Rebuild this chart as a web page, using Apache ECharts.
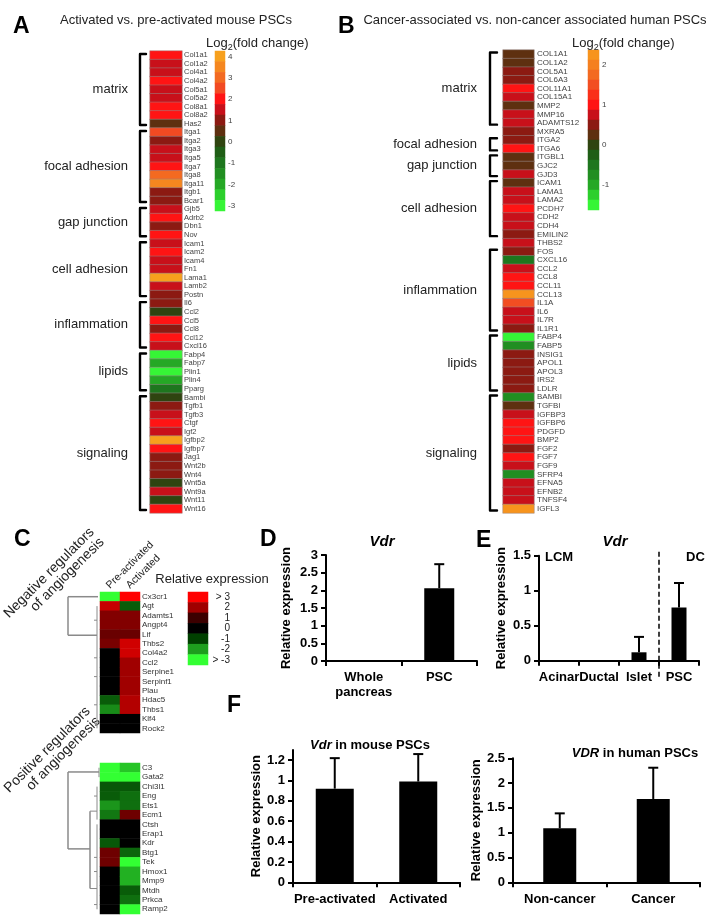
<!DOCTYPE html>
<html><head><meta charset="utf-8">
<script src="https://cdn.jsdelivr.net/npm/echarts@6/dist/echarts.min.js"></script>
<style>html,body{margin:0;padding:0;background:#fff}#c{width:721px;height:920px}</style>
</head><body><div id="c"></div>
<script>
const FONT = 'Liberation Sans, Arial, Helvetica, sans-serif';

// ---------- Panel A data ----------
const aGenes = ['Col1a1','Col1a2','Col4a1','Col4a2','Col5a1','Col5a2','Col8a1','Col8a2','Has2','Itga1','Itga2','Itga3','Itga5','Itga7','Itga8','Itga11','Itgb1','Bcar1','Gjb5','Adrb2','Dbn1','Nov','Icam1','Icam2','Icam4','Fn1','Lama1','Lamb2','Postn','Il6','Ccl2','Ccl5','Ccl8','Ccl12','Cxcl16','Fabp4','Fabp7','Plin1','Plin4','Pparg','Bambi','Tgfb1','Tgfb3','Ctgf','Igf2','Igfbp2','Igfbp7','Jag1','Wnt2b','Wnt4','Wnt5a','Wnt9a','Wnt11','Wnt16'];
const aValues = [2.1,1.4,1.5,1.9,1.5,1.4,2.0,2.0,0.4, 2.6,1.0,1.5,1.4,2.0,2.9,3.5,1.0,0.9, 1.5,2.0,1.0,2.1, 1.5,2.0,1.4,1.5,3.9,1.5,1.0, 0.9,-0.1,2.0,1.0,2.1,1.5, -3.0,-2.1,-2.9,-1.9,-1.0, 0.0,1.0,1.4,2.1,1.5,3.9,2.1,1.0,0.9,0.9,0.0,1.5,0.0,2.0];
const aGroups = ['matrix','focal adhesion','gap junction','cell adhesion','inflammation','lipids','signaling'];
const aGroupStart = [0,9,18,22,29,35,40];
const aGroupEnd = [8,17,21,28,34,39,53];
const aBandValues = [4,3.5,3,2.5,2,1.5,1,0.5,0,-0.5,-1,-1.5,-2,-2.5,-3];
const aBandColors = ['#F7A01D','#F5871F','#F36A21','#F24A22','#FF1414','#C8101A','#8C1A12','#5E3010','#2F4410','#1F5E16','#1E761E','#218E21','#25A825','#2CCF2C','#36F536'];

// ---------- Panel B data ----------
const bGenes = ['COL1A1','COL1A2','COL5A1','COL6A3','COL11A1','COL15A1','MMP2','MMP16','ADAMTS12','MXRA5','ITGA2','ITGA6','ITGBL1','GJC2','GJD3','ICAM1','LAMA1','LAMA2','PCDH7','CDH2','CDH4','EMILIN2','THBS2','FOS','CXCL16','CCL2','CCL8','CCL11','CCL13','IL1A','IL6','IL7R','IL1R1','FABP4','FABP5','INSIG1','APOL1','APOL3','IRS2','LDLR','BAMBI','TGFBI','IGFBP3','IGFBP6','PDGFD','BMP2','FGF2','FGF7','FGF9','SFRP4','EFNA5','EFNB2','TNFSF4','IGFL3'];
const bValues = [0.26,0.24,0.52,0.49,1.02,0.76,0.25,0.74,0.77,0.51, 0.48,1.05, 0.27,0.23,0.76, 0.25,0.78,0.74,1.04,0.76,0.73,0.52,0.75, 0.5,-0.5,0.77,1.0,1.03,2.2,1.55,0.74,0.76,0.49, -1.5,-0.75,0.5,0.52,0.48,0.5,0.51, -0.74,0.25,0.75,1.02,1.05,1.0,0.5,1.04,0.76,-0.76,0.77,0.74,0.75,2.22];
const bGroups = ['matrix','focal adhesion','gap junction','cell adhesion','inflammation','lipids','signaling'];
const bGroupStart = [0,10,12,15,23,33,40];
const bGroupEnd = [8,11,14,21,32,39,53];
const bBandValues = [2.25,2,1.75,1.5,1.25,1,0.75,0.5,0.25,0,-0.25,-0.5,-0.75,-1,-1.25,-1.5];
const bBandColors = ['#F7941D','#F58020','#F36A21','#F24E22','#FA3019','#FF1414','#C8101A','#8C1A12','#5E3010','#2F4410','#1F5E16','#1E761E','#218E21','#25A825','#2CCF2C','#36F536'];

// ---------- Panel C data ----------
const cSamples = ['Pre-activated','Activated'];
const cNegGenes = ['Cx3cr1','Agt','Adamts1','Angpt4','Lif','Thbs2','Col4a2','Ccl2','Serpine1','Serpinf1','Plau','Hdac5','Thbs1','Klf4','Rock2'];
const cNegPre = [-3,2.4,1.7,1.7,1.45,1.6,0,0,0,0,0,-1.3,-1.8,0,0];
const cNegAct = [3,-1.3,1.7,1.7,1.45,2.5,2.5,2.0,2.0,2.0,2.0,2.2,2.2,0,0];
const cPosGenes = ['C3','Gata2','Chi3l1','Eng','Ets1','Ecm1','Ctsh','Erap1','Kdr','Btg1','Tek','Hmox1','Mmp9','Mtdh','Prkca','Ramp2'];
const cPosPre = [-3,-3,-1.25,-1.3,-1.9,-1.6,0,0,-1.25,1.5,1.5,0,0,0,0,0];
const cPosAct = [-2.4,-3,-1.25,-1.5,-1.5,1.5,0,0,0,-1.4,-3,-2.2,-2.2,-1.3,-1.5,-3];
const cLegendLabels = ['> 3','2','1','0','-1','-2','> -3'];
const cLegendValues = [3,2,1,0,-1,-2,-3];
const cColors = ['#33FF33','#1E9E1E','#004000','#000000','#3C0000','#A00000','#FF0000'];

// ---------- Panel D, E, F data ----------
const dCats = ['Whole\npancreas','PSC'];
const dVals = [0.01,2.06];
const dErrs = [0,0.68];
const eCats = ['Acinar','Ductal','Islet','PSC'];
const eVals = [0.006,0.006,0.12,0.76];
const eErrs = [0,0,0.22,0.35];
const f1Cats = ['Pre-activated','Activated'];
const f1Vals = [0.92,0.99];
const f1Errs = [0.30,0.27];
const f2Cats = ['Non-cancer','Cancer'];
const f2Vals = [1.09,1.68];
const f2Errs = [0.30,0.63];

// ---------- layout ----------
const LA = {left:150, top:51, width:32, height:462};
const LAc = {left:215, top:51, width:10, height:160};
const LB = {left:503, top:50, width:31, height:463};
const LBc = {left:588, top:50, width:11, height:160};
const LCn = {left:100, top:592, width:40, height:141};
const LCp = {left:100, top:763, width:40, height:151};
const LCc = {left:188, top:592, width:20, height:73};
const LD = {left:326, top:555, width:151, height:106};
const LE = {left:539, top:555.7, width:160, height:105};
const LF1 = {left:293, top:750, width:167, height:132.3};
const LF2 = {left:513, top:758.3, width:187, height:124};
const layouts = [LA,LAc,LB,LBc,LCn,LCp,LCc,LD,LE,LF1,LF2];

const grids = layouts.map(l => Object.assign({containLabel:false, outerBoundsMode:'none'}, l));

function hideX(gi, data){ return {gridIndex:gi, type:'category', data, show:false}; }
function heatY(gi, data, size, color, margin){
  return {gridIndex:gi, type:'category', data, inverse:true, position:'right',
    axisLine:{show:false}, axisTick:{show:false}, splitLine:{show:false},
    axisLabel:{fontSize:size, color, margin, interval:0, fontFamily:FONT}};
}
function barX(gi, data, margin){
  return {gridIndex:gi, type:'category', data,
    axisLine:{show:true, lineStyle:{color:'#000', width:2}},
    axisTick:{show:true, length:5, lineStyle:{color:'#000', width:2}},
    axisLabel:{fontSize:13, fontWeight:'bold', color:'#000', fontFamily:FONT, margin, interval:0, lineHeight:15},
    splitLine:{show:false}};
}
function barY(gi, max, interval, gap, hideMax){
  return {gridIndex:gi, type:'value', min:0, max, interval,
    axisLine:{show:true, lineStyle:{color:'#000', width:2}},
    axisTick:{show:true, length:5, lineStyle:{color:'#000', width:2}},
    axisLabel:{fontSize:13, fontWeight:'bold', color:'#000', fontFamily:FONT, margin:8, showMaxLabel: !hideMax},
    splitLine:{show:false},
    name:'Relative expression', nameLocation:'middle', nameRotate:90, nameGap:gap,
    nameTextStyle:{fontSize:13, fontWeight:'bold', color:'#000', fontFamily:FONT}};
}
const intLabel = (v) => (Number(v) % 1 === 0 ? v : '');

const xAxes = [
  hideX(0,['v']), hideX(1,['v']), hideX(2,['v']), hideX(3,['v']),
  hideX(4,cSamples), hideX(5,cSamples), hideX(6,['v']),
  barX(7,dCats,9), barX(8,eCats,9), barX(9,f1Cats,10), barX(10,f2Cats,10)
];
const yAxes = [
  heatY(0,aGenes,7.5,'#444',2),
  Object.assign(heatY(1,aBandValues.map(String),8,'#444',3), {axisLabel:{fontSize:8, color:'#444', margin:3, interval:0, formatter:intLabel, fontFamily:FONT}}),
  heatY(2,bGenes,8,'#444',3),
  Object.assign(heatY(3,bBandValues.map(String),8,'#444',3), {axisLabel:{fontSize:8, color:'#444', margin:3, interval:0, formatter:intLabel, fontFamily:FONT}}),
  heatY(4,cNegGenes,8,'#333',2),
  heatY(5,cPosGenes,8,'#333',2),
  Object.assign(heatY(6,cLegendLabels,10,'#222',22), {axisLabel:{fontSize:10, color:'#222', margin:22, align:'right', interval:0, fontFamily:FONT}}),
  barY(7,3,0.5,33,false),
  barY(8,1.5,0.5,31,false),
  barY(9,1.3,0.2,29,true),
  barY(10,2.5,0.5,22,false)
];

function heat(xi, yi, data, border){
  return {type:'heatmap', xAxisIndex:xi, yAxisIndex:yi, data, progressive:0,
    itemStyle: border ? {borderColor:'rgba(150,135,135,0.85)', borderWidth:0.6} : {borderWidth:0},
    emphasis:{disabled:true}};
}
function bars(i, vals, w){
  return {type:'bar', xAxisIndex:i, yAxisIndex:i, data:vals, barWidth:w, itemStyle:{color:'#000'}, emphasis:{disabled:true}};
}
function errs(i, vals, errsArr, cap){
  return {type:'custom', xAxisIndex:i, yAxisIndex:i, z:5,
    data: vals.map((v,k)=>[k, v, v + errsArr[k], errsArr[k]]),
    renderItem: function(params, api){
      if (api.value(3) <= 0) return null;
      const b = api.coord([api.value(0), api.value(1)]);
      const t = api.coord([api.value(0), api.value(2)]);
      return {type:'group', children:[
        {type:'line', shape:{x1:b[0], y1:b[1], x2:t[0], y2:t[1]}, style:{stroke:'#000', lineWidth:2}},
        {type:'line', shape:{x1:t[0]-cap, y1:t[1], x2:t[0]+cap, y2:t[1]}, style:{stroke:'#000', lineWidth:2}}
      ]};
    }};
}

const series = [
  heat(0,0, aValues.map((v,i)=>[0,i,v]), true),
  heat(1,1, aBandValues.map((v,i)=>[0,i,v]), false),
  heat(2,2, bValues.map((v,i)=>[0,i,v]), true),
  heat(3,3, bBandValues.map((v,i)=>[0,i,v]), false),
  heat(4,4, cNegPre.map((v,i)=>[0,i,v]).concat(cNegAct.map((v,i)=>[1,i,v])), false),
  heat(5,5, cPosPre.map((v,i)=>[0,i,v]).concat(cPosAct.map((v,i)=>[1,i,v])), false),
  heat(6,6, cLegendValues.map((v,i)=>[0,i,v]), false),
  bars(7,dVals,30), errs(7,dVals,dErrs,5),
  bars(8,eVals,15), errs(8,eVals,eErrs,5),
  bars(9,f1Vals,38), errs(9,f1Vals,f1Errs,5),
  bars(10,f2Vals,33), errs(10,f2Vals,f2Errs,5)
];

const visualMap = [
  {type:'piecewise', show:false, seriesIndex:[0,1], dimension:2,
    pieces: aBandValues.map((v,i)=>({gte:v-0.25, lt:v+0.25, color:aBandColors[i]}))},
  {type:'piecewise', show:false, seriesIndex:[2,3], dimension:2,
    pieces: bBandValues.map((v,i)=>({gte:v-0.125, lt:v+0.125, color:bBandColors[i]}))},
  {type:'continuous', show:false, seriesIndex:[4,5,6], dimension:2, min:-3, max:3,
    inRange:{color:cColors}}
];

const chart = echarts.init(document.getElementById('c'));
chart.setOption({animation:false, backgroundColor:'#fff', grid:grids, xAxis:xAxes, yAxis:yAxes, series, visualMap});

// ---------- annotations ----------
function txt(x, y, text, o){
  o = o || {};
  const st = {text, fill:o.color||'#000', fontSize:o.size||13, fontWeight:o.weight||'normal',
    fontStyle:o.fstyle||'normal', fontFamily:FONT,
    align:o.align||'left', verticalAlign:o.va||'middle', textAlign:o.align||'left', textVerticalAlign:o.va||'middle'};
  if (o.rich) st.rich = o.rich;
  return {type:'text', x, y, rotation:o.rot||0, silent:true, z:10, style:st};
}
function seg(x1,y1,x2,y2,o){
  o = o || {};
  return {type:'line', silent:true, z:10, shape:{x1,y1,x2,y2},
    style:{stroke:o.color||'#000', lineWidth:o.w||1.5, lineDash:o.dash||null}};
}
function bracket(x, y0, y1, serif){
  return {type:'polyline', silent:true, z:10,
    shape:{points:[[x+serif,y0],[x,y0],[x,y1],[x+serif,y1]]},
    style:{stroke:'#000', lineWidth:2.4, fill:null, lineJoin:'round', lineCap:'round'}};
}
function rowY(ai, i){
  const a = chart.convertToPixel({xAxisIndex:ai, yAxisIndex:ai}, [0,0]);
  const b = chart.convertToPixel({xAxisIndex:ai, yAxisIndex:ai}, [0,1]);
  return a[1] + i*(b[1]-a[1]);
}
function rowH(ai){ return rowY(ai,1) - rowY(ai,0); }

const G = [];
// panel letters
G.push(txt(13, 27, 'A', {size:23, weight:'bold'}));
G.push(txt(338, 27, 'B', {size:23, weight:'bold'}));
G.push(txt(14, 540, 'C', {size:23, weight:'bold'}));
G.push(txt(260, 540, 'D', {size:23, weight:'bold'}));
G.push(txt(476, 541, 'E', {size:23, weight:'bold'}));
G.push(txt(227, 706, 'F', {size:23, weight:'bold'}));

// titles A, B
G.push(txt(176, 20, 'Activated vs. pre-activated mouse PSCs', {size:13, align:'center', color:'#222'}));
G.push(txt(535, 20, 'Cancer-associated vs. non-cancer associated human PSCs', {size:13, align:'center', color:'#222'}));
function logLabel(x, y){
  G.push(txt(x, y, 'Log', {size:13, color:'#222'}));
  G.push(txt(x+21.7, y+5, '2', {size:9, color:'#222'}));
  G.push(txt(x+26.7, y, '(fold change)', {size:13, color:'#222'}));
}
logLabel(206, 43);
logLabel(572, 43);

// brackets A
const hA = rowH(0);
aGroups.forEach((g,k)=>{
  const y0 = rowY(0, aGroupStart[k]) - hA/2 + 3;
  const y1 = rowY(0, aGroupEnd[k]) + hA/2 - 3;
  G.push(bracket(LA.left-10, y0, y1, 6));
  G.push(txt(LA.left-22, (y0+y1)/2, g, {size:13, align:'right', color:'#222'}));
});
// brackets B
const hB = rowH(2);
bGroups.forEach((g,k)=>{
  const y0 = rowY(2, bGroupStart[k]) - hB/2 + 2.5;
  const y1 = rowY(2, bGroupEnd[k]) + hB/2 - 2.5;
  G.push(bracket(LB.left-13, y0, y1, 7));
  G.push(txt(LB.left-26, (y0+y1)/2, g, {size:13, align:'right', color:'#222'}));
});

// panel C labels
const R45 = Math.PI/4;
G.push(txt(92, 530, 'Negative regulators', {size:14, align:'right', rot:R45, color:'#222'}));
G.push(txt(102, 540, 'of angiogenesis', {size:14, align:'right', rot:R45, color:'#222'}));
G.push(txt(88, 709, 'Positive regulators', {size:14, align:'right', rot:R45, color:'#222'}));
G.push(txt(98, 719, 'of angiogenesis', {size:14, align:'right', rot:R45, color:'#222'}));
const pc0 = chart.convertToPixel({xAxisIndex:4, yAxisIndex:4}, [0,0]);
const pc1 = chart.convertToPixel({xAxisIndex:4, yAxisIndex:4}, [1,0]);
G.push(txt(pc0[0]-2, LCn.top-5, cSamples[0], {size:10.5, rot:R45, color:'#222'}));
G.push(txt(pc1[0]-2, LCn.top-5, cSamples[1], {size:10.5, rot:R45, color:'#222'}));
G.push(txt(212, 579, 'Relative expression', {size:13, align:'center', color:'#222'}));

// dendrograms (decorative)
const dg = '#8a8a8a';
const yn = (i)=>rowY(4,i), yp = (i)=>rowY(5,i);
G.push(seg(68, yn(0), 98, yn(0), {color:dg}));
G.push(seg(68, yn(0), 68, yn(4.1), {color:dg}));
G.push(seg(68, yn(4.1), 97, yn(4.1), {color:dg}));
G.push(seg(97, yn(1), 97, yn(14), {color:dg, w:1}));
[2.5,6.5,8.5,11.5,13.5].forEach(r=>G.push(seg(94, yn(r), 97, yn(r), {color:dg, w:1})));
G.push(seg(68, yp(0.45), 99, yp(0.45), {color:dg}));
G.push(seg(99, yp(0), 99, yp(1), {color:dg, w:1}));
G.push(seg(68, yp(0.45), 68, yp(8.6), {color:dg}));
G.push(seg(68, yp(8.6), 90, yp(8.6), {color:dg}));
G.push(seg(90, yp(4.6), 90, yp(12.8), {color:dg}));
G.push(seg(90, yp(4.6), 97, yp(4.6), {color:dg, w:1}));
G.push(seg(90, yp(12.8), 97, yp(12.8), {color:dg, w:1}));
G.push(seg(97, yp(2), 97, yp(5.5), {color:dg, w:1}));
G.push(seg(97, yp(6), 97, yp(15), {color:dg, w:1}));
[3,9.5,11,14.5].forEach(r=>G.push(seg(94, yp(r), 97, yp(r), {color:dg, w:1})));

// D / E titles
const dMid = LD.left + LD.width/2;
G.push(txt(382, 542, 'Vdr', {size:15, weight:'bold', fstyle:'italic', align:'center'}));
G.push(txt(615, 542, 'Vdr', {size:15, weight:'bold', fstyle:'italic', align:'center'}));
// E separator & labels
const e2 = chart.convertToPixel({xAxisIndex:8, yAxisIndex:8}, [2,0]);
const e3 = chart.convertToPixel({xAxisIndex:8, yAxisIndex:8}, [3,0]);
const ex = (e2[0]+e3[0])/2;
G.push(seg(ex, LE.top-4, ex, LE.top+LE.height+17, {w:1.5, dash:[5,3]}));
G.push(txt(LE.left+6, 557, 'LCM', {size:13, weight:'bold'}));
G.push(txt(LE.left+LE.width-13, 557, 'DC', {size:13, weight:'bold'}));
// F titles
const richI = {i:{fontStyle:'italic', fontWeight:'bold', fontSize:13, fontFamily:FONT, fill:'#000', color:'#000'}};
G.push(txt(370, 745, '{i|Vdr} in mouse PSCs', {size:13, weight:'bold', align:'center', rich:richI}));
G.push(txt(635, 753, '{i|VDR} in human PSCs', {size:13, weight:'bold', align:'center', rich:richI}));

chart.setOption({graphic:{elements:G}});
</script></body></html>
